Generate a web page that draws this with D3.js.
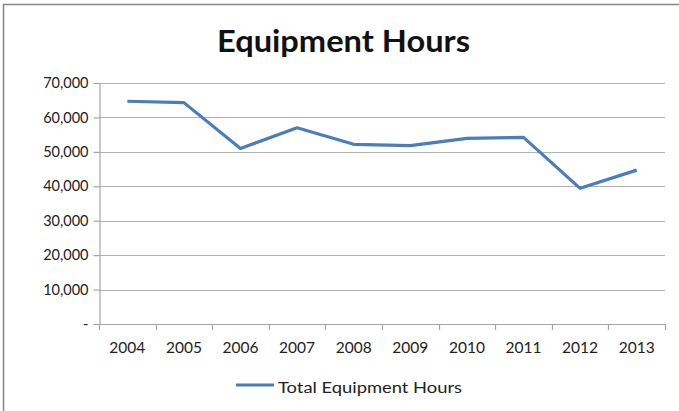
<!DOCTYPE html>
<html><head><meta charset="utf-8">
<script src="https://cdn.jsdelivr.net/npm/d3@7"></script>
<style>body{margin:0;background:#fff}svg{display:block}</style>
</head><body>
<svg id="c" width="679" height="411"></svg>
<script>
const years = ["2004","2005","2006","2007","2008","2009","2010","2011","2012","2013"];
const hours = [64700, 64300, 51000, 57000, 52200, 51800, 53900, 54200, 39400, 44700];
const yTicks = [0, 10000, 20000, 30000, 40000, 50000, 60000, 70000];
const seriesName = "Total Equipment Hours";
const title = "Equipment Hours";

const svg = d3.select("#c");
const font = "Lato, 'Open Sans', sans-serif";
// frame
svg.append("rect").attr("x",3.5).attr("y",4.5).attr("width",690).attr("height",420)
  .attr("fill","#fff").attr("stroke","#868686").attr("stroke-width",1.5);

const L = 99, R = 665, T = 83, B = 324;
const x = d3.scaleBand().domain(years).range([L, R]);
const y = d3.scaleLinear().domain([0, 70000]).range([B, T]);

// gridlines
svg.append("g").selectAll("line").data(yTicks.filter(d=>d>0)).join("line")
  .attr("x1",L).attr("x2",R).attr("y1",d=>Math.round(y(d))+0.5).attr("y2",d=>Math.round(y(d))+0.5)
  .attr("stroke","#b3b3b3").attr("stroke-width",1.2);

// y axis
const yAxis = d3.axisLeft(y).tickValues(yTicks).tickSize(6).tickPadding(5)
  .tickFormat(d => d === 0 ? "-" : d3.format(",")(d));
const gy = svg.append("g").attr("transform",`translate(${L+0.5},0)`).call(yAxis);
gy.select(".domain").attr("stroke","#a6a6a6").attr("stroke-width",1.2);
gy.selectAll(".tick line").attr("stroke","#a6a6a6").attr("stroke-width",1.2);
gy.selectAll("text").attr("font-family",font).attr("font-size",14.5).attr("fill","#222")
  .attr("x",-11);

// x axis line and ticks at band boundaries
const gx = svg.append("g");
gx.append("line").attr("x1",L-5).attr("x2",R).attr("y1",B+0.5).attr("y2",B+0.5)
  .attr("stroke","#a6a6a6").attr("stroke-width",1.2);
const bounds = years.map(d=>x(d)).concat([R]);
gx.selectAll("line.t").data(bounds).join("line").attr("class","t")
  .attr("x1",d=>Math.round(d)+0.5).attr("x2",d=>Math.round(d)+0.5).attr("y1",B).attr("y2",B+6)
  .attr("stroke","#a6a6a6").attr("stroke-width",1.2);
gx.selectAll("text").data(years).join("text")
  .attr("x",d=>x(d)+x.bandwidth()/2).attr("y",B+29).attr("text-anchor","middle")
  .attr("font-family",font).attr("font-size",15.5).attr("fill","#222").text(d=>d);

// line
const line = d3.line().x((d,i)=>x(years[i])+x.bandwidth()/2).y(d=>y(d));
svg.append("path").datum(hours).attr("d",line).attr("fill","none")
  .attr("stroke","#4a7ebb").attr("stroke-width",3.2).attr("stroke-linejoin","round");

// title
svg.append("text").attr("x",217).attr("y",52)
  .attr("font-family",font).attr("font-weight","bold").attr("font-size",31).attr("fill","#111")
  .attr("textLength",253).attr("lengthAdjust","spacingAndGlyphs")
  .text(title);

// legend
svg.append("line").attr("x1",236).attr("x2",274).attr("y1",385).attr("y2",385)
  .attr("stroke","#4a7ebb").attr("stroke-width",3.2);
svg.append("text").attr("x",278).attr("y",392.5).attr("font-family",font).attr("font-size",15.5)
  .attr("fill","#222").attr("textLength",184).attr("lengthAdjust","spacingAndGlyphs").text(seriesName);
</script>
</body></html>
